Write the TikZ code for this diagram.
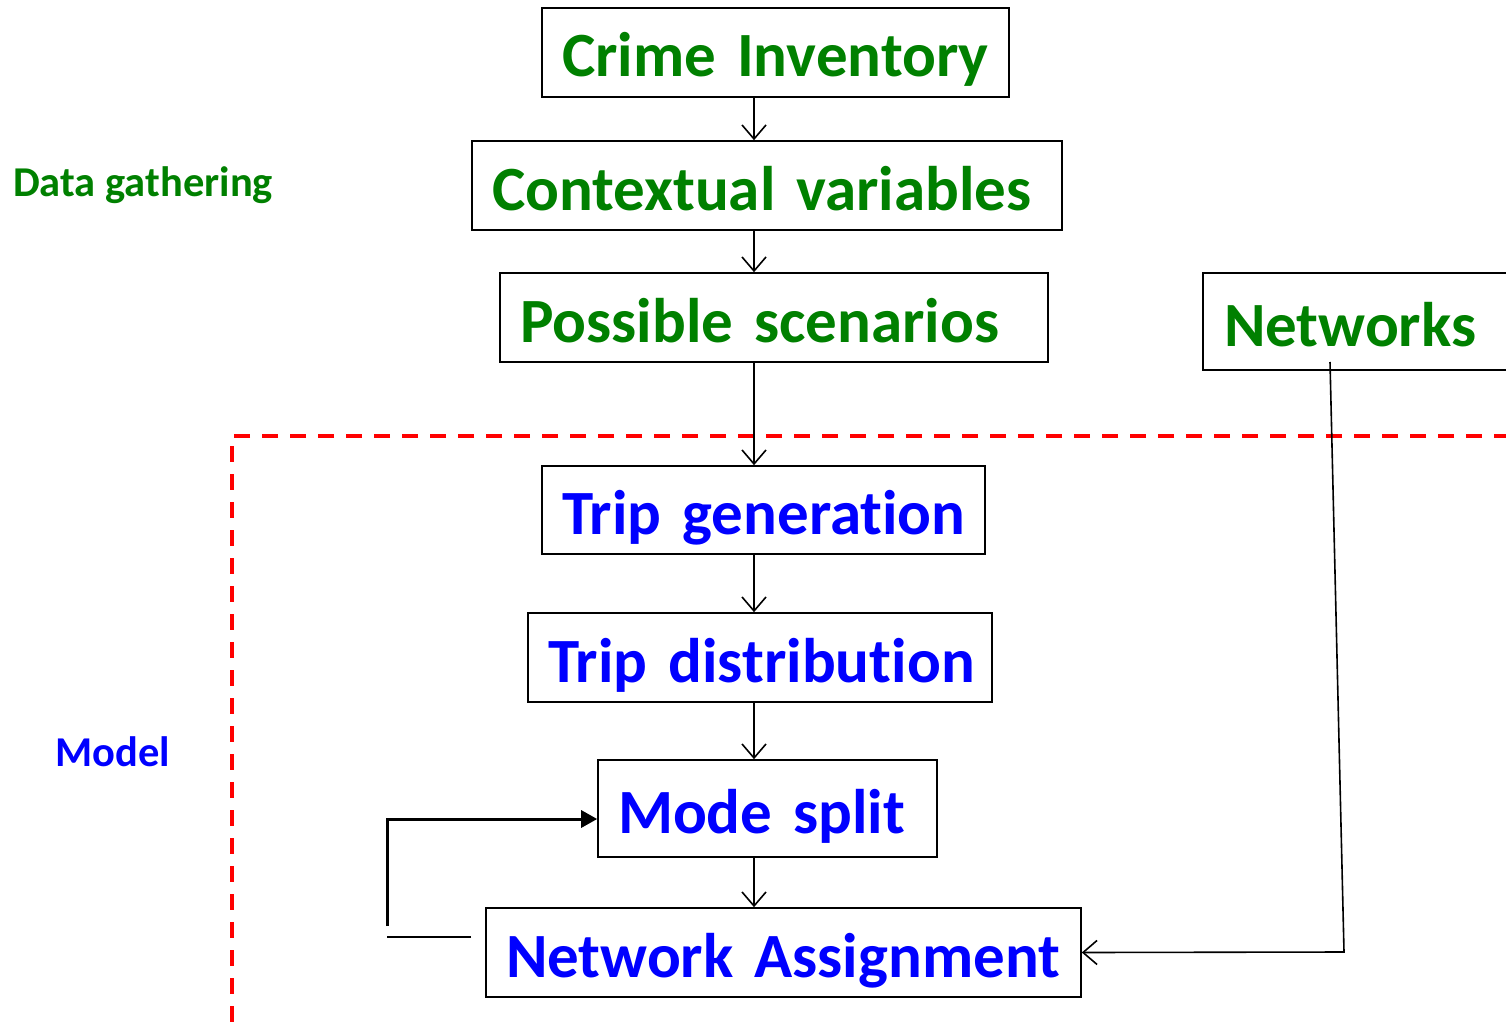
\documentclass[tikz,border=0pt]{standalone}
\usepackage{fontspec}
\setmainfont[Ligatures=NoCommon]{Carlito}
\usetikzlibrary{arrows.meta}
\definecolor{dgreen}{RGB}{0,128,0}
\definecolor{dblue}{RGB}{0,0,255}
\begin{document}
\begin{tikzpicture}[x=1pt,y=-1pt,
  box/.style={draw=black, line width=1.6pt, inner xsep=20pt, inner ysep=0pt,
    align=left, font=\bfseries\fontsize{63}{70}\selectfont,
    text height=49pt, text depth=0pt},
  gbox/.style={box, text=dgreen},
  bbox/.style={box, text=dblue},
  arr/.style={line width=1.6pt, -{Straight Barb[length=14pt,width=24pt,line width=1.6pt]}},
  fb/.style={line width=3pt, -{Triangle[length=16pt,width=17pt]}},
  lbl/.style={anchor=west, inner sep=0pt, font=\bfseries\fontsize{42.5}{46}\selectfont},
  reddash/.style={draw=red, line width=4pt, dash pattern=on 16pt off 12pt}
]
\useasboundingbox (0,0) rectangle (1506,1025);
% boxes
\node[gbox, minimum width=467pt, minimum height=89pt, text width=427pt] (ci) at (775.5,52.5) {\mbox{Crime Inventory}};
\node[gbox, minimum width=590pt, minimum height=89pt, text width=550pt] (cv) at (767,185.5) {\mbox{Contextual variables}};
\node[gbox, minimum width=548pt, minimum height=89pt, text width=508pt] (ps) at (774,317.5) {\mbox{Possible scenarios}};
\node[gbox, minimum width=320pt, minimum height=97pt, text width=278pt, inner xsep=21pt] (nw) at (1363,321.5) {\mbox{Networks}};
\node[bbox, minimum width=443pt, minimum height=88pt, text width=403pt] (tg) at (763.5,510) {\mbox{Trip generation}};
\node[bbox, minimum width=464pt, minimum height=89pt, text width=424pt] (td) at (760,657.5) {\mbox{Trip distribution}};
\node[bbox, minimum width=339pt, minimum height=97pt, text width=299pt] (ms) at (767.5,808.5) {\mbox{Mode split}};
\node[bbox, minimum width=595pt, minimum height=89pt, text width=555pt] (na) at (783.5,952.5) {\mbox{Network Assignment}};
% labels
\node[lbl, text=dgreen] (dg) at (13,185) {Data gathering};
\node[lbl, text=dblue] (md) at (55,752) {Model};
% red dashed frame
\coordinate (rtop) at (1510,436);
\coordinate (rcorner) at (232,436);
\coordinate (rbot) at (232,1030);
\draw[reddash] (rtop) -- (rcorner) -- (rbot);
% vertical arrows
\coordinate (ax) at (754,0);
\draw[arr] (ci.south -| ax) -- (cv.north -| ax);
\draw[arr] (cv.south -| ax) -- (ps.north -| ax);
\draw[arr] (ps.south -| ax) -- (tg.north -| ax);
\draw[arr] (tg.south -| ax) -- (td.north -| ax);
\draw[arr] (td.south -| ax) -- (ms.north -| ax);
\draw[arr] (ms.south -| ax) -- (na.north -| ax);
% networks connector
\coordinate (nws) at (1330,362);
\coordinate (nwb) at (1344,952);
\draw[arr] (nws) -- (nwb) -- (na.east);
% feedback
\coordinate (fa) at (471,937);
\coordinate (fb) at (387,937);
\coordinate (fc) at (387,926);
\coordinate (fd) at (387,819);
\draw[line width=1.6pt] (fa) -- (fb);
\draw[fb] (fc) -- (fd) -- (ms.west |- fd);
\end{tikzpicture}
\end{document}
